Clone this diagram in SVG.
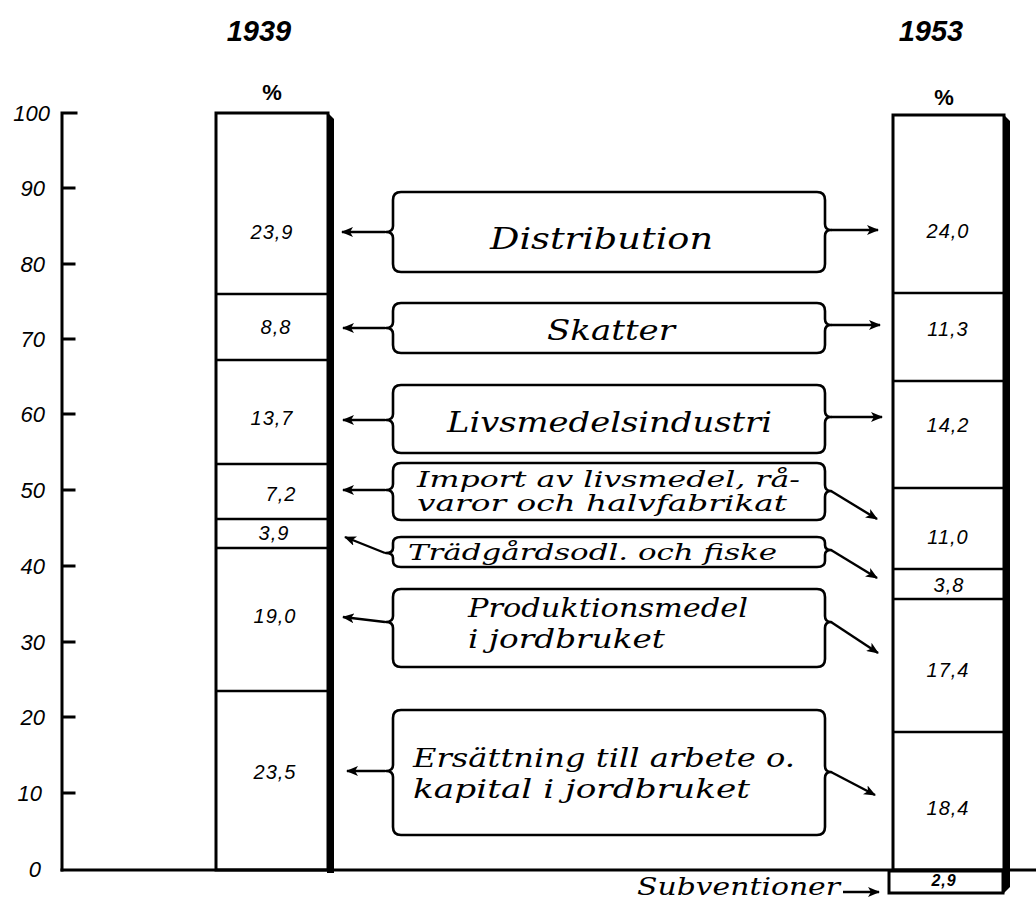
<svg xmlns="http://www.w3.org/2000/svg" width="1036" height="899" viewBox="0 0 1036 899">
<style>
.ln{stroke:#000;stroke-width:3;fill:none;stroke-linecap:square}
.thin{stroke:#000;stroke-width:2.5;fill:none}
.box{stroke:#000;stroke-width:2.6;fill:none;stroke-linejoin:round}
.arr{stroke:#000;stroke-width:2.4;fill:none;marker-end:url(#ah)}
.ax{font-family:"Liberation Sans",Arial,sans-serif;font-style:italic;font-size:22px;fill:#000;text-anchor:end}
.yr{font-family:"Liberation Sans",Arial,sans-serif;font-style:italic;font-weight:bold;font-size:29px;fill:#000;text-anchor:middle}
.pc{font-family:"Liberation Sans",Arial,sans-serif;font-weight:bold;font-size:22px;fill:#000;text-anchor:middle}
.num{font-family:"Liberation Sans",Arial,sans-serif;font-style:italic;font-size:20px;fill:#000;text-anchor:middle;letter-spacing:1px}
.lab{font-family:"DejaVu Serif","Liberation Serif",serif;font-style:italic;fill:#000}
</style>
<defs>
<marker id="ah" markerWidth="12" markerHeight="10" refX="11" refY="5" orient="auto" markerUnits="userSpaceOnUse">
<path d="M0,0 L12,5 L0,10 L3,5 Z" fill="#000"/>
</marker>
</defs>
<rect width="1036" height="899" fill="#fff"/>

<g id="titles">
<text class="yr" x="259" y="41">1939</text>
<text class="yr" x="931" y="41">1953</text>
<text class="pc" x="272" y="100">%</text>
<text class="pc" x="944" y="105">%</text>
</g>

<g id="axis">
<path class="ln" d="M62,113 V870 M62,113 H76 M62,188 H74 M62,264 H74 M62,339 H74 M62,414 H74 M62,490 H74 M62,566 H74 M62,642 H74 M62,717 H74 M62,793 H74"/>
<path class="ln" d="M62,870 H1036"/>
<text class="ax" x="50" y="121">100</text>
<text class="ax" x="45" y="196">90</text>
<text class="ax" x="45" y="272">80</text>
<text class="ax" x="45" y="347">70</text>
<text class="ax" x="45" y="422">60</text>
<text class="ax" x="45" y="498">50</text>
<text class="ax" x="45" y="574">40</text>
<text class="ax" x="45" y="650">30</text>
<text class="ax" x="45" y="725">20</text>
<text class="ax" x="42" y="801">10</text>
<text class="ax" x="41" y="877">0</text>
</g>

<g id="bar1939">
<rect class="ln" x="216" y="113" width="112" height="757"/>
<polygon points="327,112 334,119 334,873 327,873" fill="#000"/>
<path class="thin" d="M216,294 H328 M216,360 H328 M216,464 H328 M216,519 H328 M216,548 H328 M216,691 H328"/>
<text class="num" x="272" y="239">23,9</text>
<text class="num" x="276" y="334">8,8</text>
<text class="num" x="272" y="425">13,7</text>
<text class="num" x="281" y="501">7,2</text>
<text class="num" x="274" y="540">3,9</text>
<text class="num" x="275" y="623">19,0</text>
<text class="num" x="275" y="779">23,5</text>
</g>

<g id="bar1953">
<rect class="ln" x="893" y="115" width="111" height="755"/>
<rect class="ln" x="889" y="871" width="114" height="22"/>
<polygon points="1003,114 1010,121 1010,887 1004,893 1003,893" fill="#000"/>
<path class="thin" d="M893,293 H1004 M893,381 H1004 M893,488 H1004 M893,569 H1004 M893,599 H1004 M893,732 H1004"/>
<text class="num" x="948" y="238">24,0</text>
<text class="num" x="948" y="336">11,3</text>
<text class="num" x="948" y="432">14,2</text>
<text class="num" x="948" y="544">11,0</text>
<text class="num" x="949" y="592">3,8</text>
<text class="num" x="948" y="677">17,4</text>
<text class="num" x="948" y="815">18,4</text>
<text class="num" x="944" y="886" style="font-size:16px;font-weight:bold">2,9</text>
</g>

<g id="connectors">
<path class="arr" d="M385,232 H342"/>
<path class="arr" d="M831,230 H878"/>
<path class="arr" d="M385,328 H343"/>
<path class="arr" d="M831,325 H880"/>
<path class="arr" d="M385,420 H343"/>
<path class="arr" d="M831,417 H882"/>
<path class="arr" d="M385,490 H343"/>
<path class="arr" d="M831,491 L877,519"/>
<path class="arr" d="M385,553 L345,537"/>
<path class="arr" d="M831,550 L877,578"/>
<path class="arr" d="M385,622 L343,617"/>
<path class="arr" d="M831,622 L878,653"/>
<path class="arr" d="M385,771 H347"/>
<path class="arr" d="M831,772 L875,795"/>
<path class="arr" d="M843,892 H879"/>
</g>

<g id="n-distribution">
<path class="box" d="M401,192 H817 Q825,192 825,200 V224 Q825,230 831,230 Q825,230 825,236 V264 Q825,272 817,272 H401 Q393,272 393,264 V238 Q393,232 386,232 Q393,232 393,226 V200 Q393,192 401,192 Z"/>
<text class="lab" x="490" y="249" font-size="30" textLength="223" lengthAdjust="spacingAndGlyphs">Distribution</text>
</g>

<g id="n-skatter">
<path class="box" d="M401,303 H817 Q825,303 825,311 V319 Q825,325 831,325 Q825,325 825,331 V345 Q825,353 817,353 H401 Q393,353 393,345 V334 Q393,328 386,328 Q393,328 393,322 V311 Q393,303 401,303 Z"/>
<text class="lab" x="547" y="340" font-size="27" textLength="128" lengthAdjust="spacingAndGlyphs">Skatter</text>
</g>

<g id="n-livsmedelsindustri">
<path class="box" d="M401,385 H817 Q825,385 825,393 V411 Q825,417 831,417 Q825,417 825,423 V445 Q825,453 817,453 H401 Q393,453 393,445 V426 Q393,420 386,420 Q393,420 393,414 V393 Q393,385 401,385 Z"/>
<text class="lab" x="447" y="432" font-size="28" textLength="325" lengthAdjust="spacingAndGlyphs">Livsmedelsindustri</text>
</g>

<g id="n-import">
<path class="box" d="M401,463 H817 Q825,463 825,471 V485 Q825,491 831,491 Q825,491 825,497 V512 Q825,520 817,520 H401 Q393,520 393,512 V496 Q393,490 386,490 Q393,490 393,484 V471 Q393,463 401,463 Z"/>
<text class="lab" x="417" y="487" font-size="22" textLength="383" lengthAdjust="spacingAndGlyphs">Import av livsmedel, rå-</text>
<text class="lab" x="417" y="511" font-size="22" textLength="370" lengthAdjust="spacingAndGlyphs">varor och halvfabrikat</text>
</g>

<g id="n-tradgard">
<path class="box" d="M401,537 H817 Q825,537 825,543 V545 Q825,550 831,550 Q825,550 825,555 V561 Q825,567 817,567 H401 Q393,567 393,561 V558 Q393,553 386,553 Q393,553 393,548 V543 Q393,537 401,537 Z"/>
<text class="lab" x="408" y="560" font-size="23" textLength="369" lengthAdjust="spacingAndGlyphs">Trädgårdsodl. och fiske</text>
</g>

<g id="n-produktionsmedel">
<path class="box" d="M401,589 H817 Q825,589 825,597 V616 Q825,622 831,622 Q825,622 825,628 V659 Q825,667 817,667 H401 Q393,667 393,659 V628 Q393,622 386,622 Q393,622 393,616 V597 Q393,589 401,589 Z"/>
<text class="lab" x="468" y="617" font-size="26" textLength="280" lengthAdjust="spacingAndGlyphs">Produktionsmedel</text>
<text class="lab" x="468" y="648" font-size="26" textLength="197" lengthAdjust="spacingAndGlyphs">i jordbruket</text>
</g>

<g id="n-ersattning">
<path class="box" d="M401,710 H817 Q825,710 825,718 V766 Q825,772 831,772 Q825,772 825,778 V827 Q825,835 817,835 H401 Q393,835 393,827 V777 Q393,771 386,771 Q393,771 393,765 V718 Q393,710 401,710 Z"/>
<text class="lab" x="413" y="767" font-size="26" textLength="382" lengthAdjust="spacingAndGlyphs">Ersättning till arbete o.</text>
<text class="lab" x="413" y="798" font-size="26" textLength="337" lengthAdjust="spacingAndGlyphs">kapital i jordbruket</text>
</g>

<g id="n-subventioner">
<text class="lab" x="637" y="895" font-size="24" textLength="203" lengthAdjust="spacingAndGlyphs">Subventioner</text>
</g>
</svg>
